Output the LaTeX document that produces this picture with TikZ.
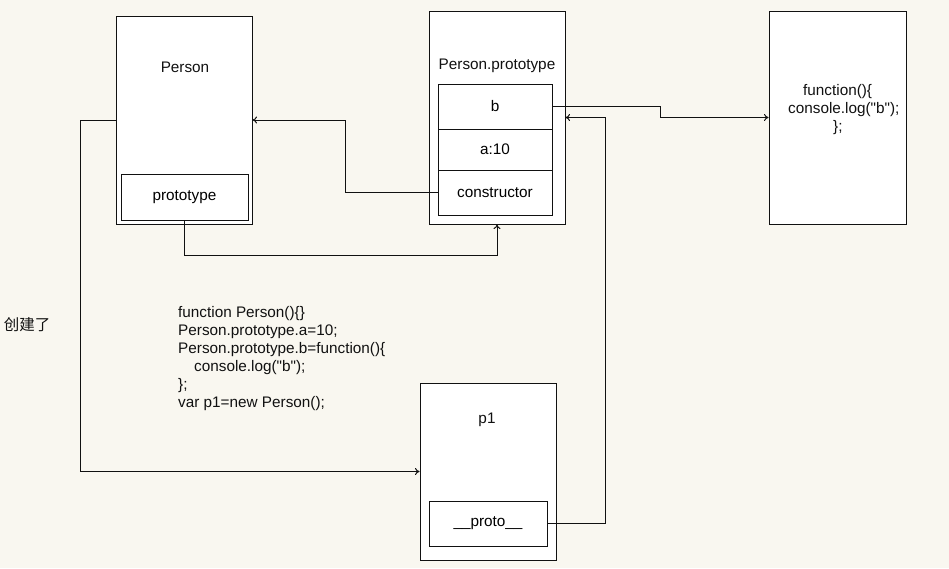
\documentclass[tikz,border=0pt]{standalone}
\usepackage{fontspec}
\setmainfont{Liberation Sans}
\newfontfamily\cjk{Noto Sans CJK SC}
\usetikzlibrary{arrows.meta, positioning, calc}
\definecolor{paper}{HTML}{F9F7F0}
\definecolor{ink}{HTML}{111111}

\begin{document}
\begin{tikzpicture}[
        x=1pt, y=-1pt,
        font=\fontsize{15.3}{18}\selectfont,
        box/.style={rectangle, draw=ink, fill=white, line width=1pt,
                    inner sep=0pt},
        cell/.style={box, minimum width=114pt},
        lbl/.style={inner sep=0pt, text=ink},
        ttl/.style={lbl, anchor=base},
        arr/.style={-{To[length=4.5pt,width=7pt]}, ink, line width=1pt},
      ]
      % background, fixes the page size
      \fill[paper] (0,0) rectangle (949,568);
      \useasboundingbox (0,0) rectangle (949,568);

      % Person
      \node[box, minimum width=136pt, minimum height=208pt] (person) at (184,120) {};
      \node[ttl] (ptitle) at (185,72) {Person};
      \node[box, minimum width=127pt, minimum height=46pt] (proto) at (184.5,197) {prototype};

      % Person.prototype
      \node[box, minimum width=136pt, minimum height=213pt] (pp) at (497,117.5) {};
      \node[ttl] (pptitle) at (497,69) {Person.prototype};
      \node[cell, minimum height=45pt] (b) at (495,106.5) {b};
      \node[cell, minimum height=41pt] (a) at (495,149.5) {a:10};
      \node[cell, minimum height=45pt] (ctor) at (495,192.5) {constructor};

      % the function that b points to
      \node[box, minimum width=137pt, minimum height=213pt] (fn) at (837.5,117.5) {};
      \node[lbl, anchor=base west, align=left] (fnbody) at (788,131)
        {\hspace*{15pt}function()\{\\console.log(\textquotedbl b\textquotedbl);\\\hspace*{45pt}\};};

      % p1
      \node[box, minimum width=136pt, minimum height=177pt] (p1) at (488,471.5) {};
      \node[ttl] (p1title) at (487,423) {p1};
      \node[box, minimum width=118pt, minimum height=45pt] (pr) at (488,523.5) {\_\_proto\_\_};

      % source code
      \node[lbl, anchor=base west, align=left] (code) at (178,407)
        {function Person()\{\}\\
         Person.prototype.a=10;\\
         Person.prototype.b=function()\{\\
         \hspace*{16pt}console.log(\textquotedbl b\textquotedbl);\\
         \};\\
         var p1=new Person();};
      \node[lbl, font=\cjk\fontsize{15.5}{18}\selectfont] (made) at (27,325) {创建了};

      % links
      \draw[arr] (ctor.west) -- ++(-92,0) |- (person.east);
      \draw[arr] (proto.south) -- ++(0,35) -| (pp.south);
      \draw[arr] (b.east) -- ++(108,0) |- (fn.west);
      \draw[arr] (pr.east) -- ++(58,0) |- (pp.east);
      \draw[arr] (person.west) -- ++(-35,0) |- (p1.west);
\end{tikzpicture}
\end{document}
